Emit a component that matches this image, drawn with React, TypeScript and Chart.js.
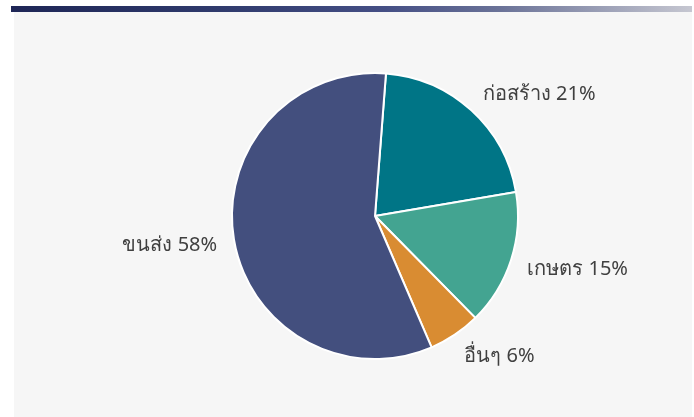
import React, { useEffect, useRef } from "react";
import { Chart, registerables } from "chart.js";

Chart.register(...registerables);

const categories = ["ก่อสร้าง", "เกษตร", "อื่นๆ", "ขนส่ง"];
const shares = [21.1, 15.3, 5.9, 57.7];
const colors = ["#007586", "#43a491", "#d98c32", "#434f7e"];

const labelPlugin = {
  id: "outsideLabels",
  afterDatasetsDraw(chart: any) {
    const ctx = chart.ctx;
    const meta = chart.getDatasetMeta(0);
    const data = chart.data.datasets[0].data as number[];
    const total = data.reduce((a: number, b: number) => a + b, 0);
    ctx.save();
    ctx.font = '20px "Noto Sans", "DejaVu Sans", sans-serif';
    ctx.fillStyle = "#404040";
    ctx.textBaseline = "middle";
    meta.data.forEach((arc: any, i: number) => {
      const p = arc.getProps(["x", "y", "startAngle", "endAngle", "outerRadius"], true);
      const mid = (p.startAngle + p.endAngle) / 2;
      const r = p.outerRadius + 17;
      const ax = p.x + Math.cos(mid) * r;
      const ay = p.y + Math.sin(mid) * r + Math.sin(mid) * 7 + 2;
      ctx.textAlign = Math.cos(mid) >= 0 ? "left" : "right";
      const pct = Math.round((data[i] / total) * 100);
      ctx.fillText(`${chart.data.labels[i]} ${pct}%`, ax, ay);
    });
    ctx.restore();
  },
};

export default function App() {
  const ref = useRef<HTMLCanvasElement | null>(null);
  useEffect(() => {
    if (!ref.current) return;
    const chart = new Chart(ref.current, {
      type: "pie",
      data: {
        labels: categories,
        datasets: [
          {
            data: shares,
            backgroundColor: colors,
            borderColor: "#ffffff",
            borderWidth: 2,
            radius: 143,
          } as any,
        ],
      },
      options: {
        responsive: false,
        animation: false,
        rotation: 4.4,
        layout: { padding: { left: 100, right: 44, top: 30, bottom: 15 } },
        plugins: {
          legend: { display: false },
          tooltip: { enabled: false },
          title: { display: false },
        },
      },
      plugins: [labelPlugin],
    });
    return () => chart.destroy();
  }, []);

  return (
    <div style={{ position: "fixed", left: 0, top: 0, width: 694, height: 417, overflow: "hidden", background: "#ffffff" }}>
      <div
        style={{
          position: "absolute",
          left: 11,
          top: 6,
          width: 681,
          height: 6,
          background: "linear-gradient(to right, #1e2656 0%, #2f3a6c 30%, #454f85 55%, #6b7398 72%, #c6c7d1 100%)",
        }}
      />
      <div style={{ position: "absolute", left: 14, top: 12, width: 678, height: 405, background: "#f6f6f6" }} />
      <canvas ref={ref} width={694} height={417} style={{ position: "absolute", left: 0, top: 0, width: 694, height: 417 }} />
    </div>
  );
}
